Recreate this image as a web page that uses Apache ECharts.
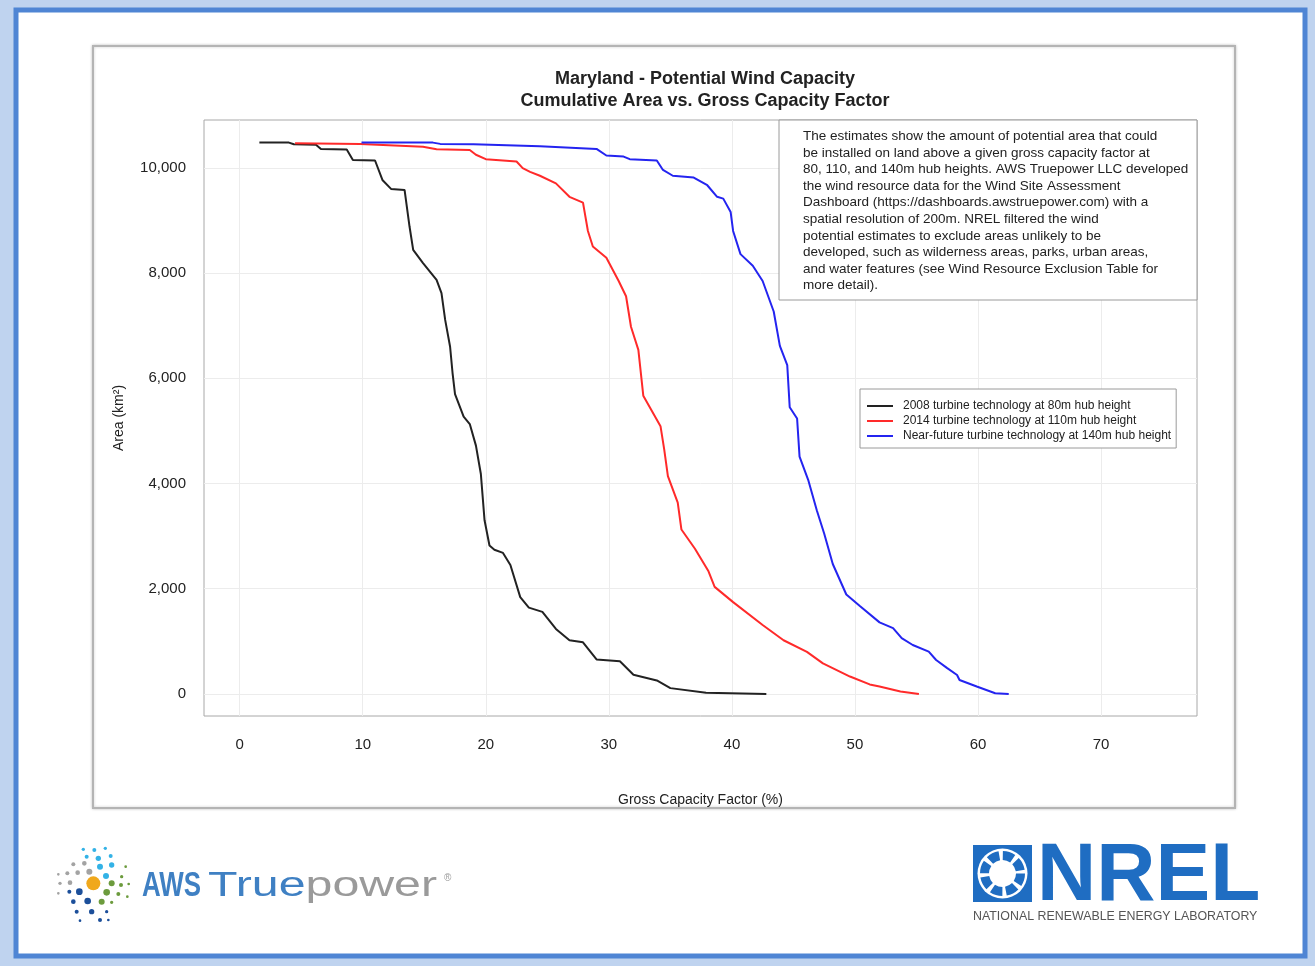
<!DOCTYPE html>
<html>
<head>
<meta charset="utf-8">
<title>Maryland - Potential Wind Capacity</title>
<script src="https://cdn.jsdelivr.net/npm/echarts@6/dist/echarts.min.js"></script>
<style>
  html, body { margin: 0; padding: 0; background: #fff; }
  #chart { width: 1315px; height: 966px; }
</style>
</head>
<body>
<div id="chart"></div>
<script>
// gross capacity factor (%) and cumulative area (km2)
var cf80 = [1.6, 4.0, 4.4, 6.2, 6.6, 8.7, 9.2, 11.0, 11.6, 12.3, 13.4, 13.8, 14.1, 14.9, 16.0, 16.4, 16.7, 17.1, 17.3, 17.5, 18.2, 18.7, 19.2, 19.6, 19.9, 20.3, 20.7, 21.4, 22.0, 22.8, 23.5, 24.6, 25.7, 26.8, 27.9, 29.0, 30.9, 32.0, 33.9, 35.0, 37.9, 42.8];
var area80 = [10480, 10480, 10450, 10440, 10360, 10350, 10150, 10140, 9770, 9600, 9580, 8890, 8440, 8190, 7870, 7620, 7110, 6600, 6100, 5700, 5270, 5130, 4720, 4180, 3300, 2820, 2740, 2680, 2450, 1840, 1640, 1560, 1235, 1020, 980, 655, 620, 365, 255, 110, 20, 0];

var cf110 = [4.5, 9.8, 14.9, 16.0, 18.7, 19.2, 20.0, 22.5, 23.0, 23.6, 24.4, 25.7, 26.8, 27.9, 28.3, 28.7, 29.8, 30.8, 31.4, 31.8, 32.4, 32.8, 33.5, 34.2, 34.5, 34.8, 35.6, 35.9, 37.0, 38.1, 38.6, 40.1, 42.5, 44.2, 46.1, 47.4, 49.6, 51.2, 52.0, 53.7, 55.2];
var area110 = [10470, 10456, 10400, 10355, 10340, 10250, 10165, 10120, 9995, 9925, 9850, 9705, 9450, 9340, 8800, 8505, 8290, 7850, 7560, 6980, 6540, 5670, 5380, 5090, 4650, 4140, 3635, 3125, 2760, 2330, 2035, 1745, 1310, 1020, 800, 580, 330, 180, 140, 45, 0];

var cf140 = [9.9, 15.7, 16.3, 19.0, 24.4, 29.0, 29.8, 31.2, 31.7, 33.9, 34.4, 35.2, 36.9, 38.0, 38.8, 39.3, 39.9, 40.1, 40.7, 41.7, 42.5, 43.4, 43.9, 44.5, 44.7, 45.3, 45.5, 46.2, 46.9, 47.5, 48.2, 49.3, 50.4, 52.0, 53.1, 53.8, 54.7, 56.0, 56.6, 57.5, 58.3, 58.5, 59.9, 61.4, 62.5];
var area140 = [10480, 10480, 10456, 10450, 10410, 10360, 10235, 10215, 10165, 10140, 9960, 9850, 9815, 9670, 9450, 9415, 9160, 8800, 8360, 8140, 7850, 7270, 6615, 6250, 5450, 5235, 4510, 4070, 3490, 3050, 2470, 1890, 1670, 1360, 1250, 1060, 930, 805, 645, 490, 360, 265, 140, 13, 0];

var xTicks = [0, 10, 20, 30, 40, 50, 60, 70];
var yTicks = [0, 2000, 4000, 6000, 8000, 10000];

var seriesNames = [
  "2008 turbine technology at 80m hub height",
  "2014 turbine technology at 110m hub height",
  "Near-future turbine technology at 140m hub height"
];
var seriesColors = ["#222222", "#ff2a2a", "#2424f0"];

var noteLines = [
  "The estimates show the amount of potential area that could",
  "be installed on land above a given gross capacity factor at",
  "80, 110, and 140m hub heights. AWS Truepower LLC developed",
  "the wind resource data for the Wind Site Assessment",
  "Dashboard (https://dashboards.awstruepower.com) with a",
  "spatial resolution of 200m. NREL filtered the wind",
  "potential estimates to exclude areas unlikely to be",
  "developed, such as wilderness areas, parks, urban areas,",
  "and water features (see Wind Resource Exclusion Table for",
  "more detail)."
];

var FONT = "Liberation Sans, Arial, sans-serif";

function pairs(xs, ys) {
  return xs.map(function (x, i) { return [x, ys[i]]; });
}

// dots of the AWS Truepower mark (zoomed coords / 3 + origin)
var awsDots = [
  [130, 58, 5, "lb"], [163, 60, 6, "lb"], [196, 55, 5, "lb"],
  [140, 80, 6, "lb"], [175, 85, 8, "lb"], [212, 78, 6, "lb"],
  [100, 103, 6, "gr"], [133, 100, 7, "gr"], [180, 110, 9, "lb"], [215, 105, 8, "lb"], [257, 110, 4, "gn"],
  [55, 133, 4, "gr"], [82, 130, 6, "gr"], [113, 128, 7, "gr"], [148, 125, 9, "gr"], [198, 138, 9, "lb"], [245, 140, 5, "gn"],
  [60, 160, 5, "gr"], [90, 158, 7, "gr"], [160, 160, 21, "ye"], [215, 160, 9, "gn"], [243, 165, 6, "gn"], [266, 162, 4, "gn"],
  [55, 190, 4, "gr"], [88, 185, 6, "db"], [118, 185, 10, "db"], [200, 187, 10, "gn"], [235, 192, 6, "gn"], [262, 200, 4, "gn"],
  [100, 215, 7, "db"], [143, 213, 10, "db"], [185, 215, 9, "gn"], [215, 217, 5, "gn"],
  [110, 245, 6, "db"], [155, 245, 8, "db"], [200, 245, 5, "db"],
  [120, 272, 4, "db"], [180, 270, 6, "db"], [205, 270, 4, "db"]
];
var dotColors = { lb: "#33b2e6", gr: "#a3a3a3", ye: "#f0a81c", gn: "#6c9b3d", db: "#1c4f9a" };

var graphics = [
  { type: "rect", z: -20, shape: { x: 0, y: 0, width: 1315, height: 966 }, style: { fill: "#bfd3ef" } },
  { type: "rect", z: -19, shape: { x: 16, y: 10, width: 1289, height: 946 },
    style: { fill: "#ffffff", stroke: "#4f85d4", lineWidth: 5 } },
  { type: "rect", z: -18, shape: { x: 93, y: 46, width: 1142, height: 762 },
    style: { fill: "#ffffff", stroke: "#b4b4b4", lineWidth: 2, shadowBlur: 3, shadowColor: "rgba(0,0,0,0.2)" } },
  // note box
  { type: "rect", z: 10, shape: { x: 779, y: 120, width: 418, height: 180 },
    style: { fill: "#ffffff", stroke: "#9a9a9a", lineWidth: 1 } },
  { type: "text", z: 11, x: 803, y: 128,
    style: { text: noteLines.join("\n"), font: "13.5px " + FONT, fill: "#222", lineHeight: 16.6 } },
  // AWS Truepower mark
  { type: "text", z: 1, x: 142, y: 886, scaleX: 0.74,
    style: { text: "AWS", font: "bold 35px " + FONT, fill: "#3f80c3", verticalAlign: "middle" } },
  { type: "text", z: 1, x: 208, y: 886, scaleX: 1.38,
    style: { rich: { a: { fill: "#3f80c3", font: "35px " + FONT }, b: { fill: "#9a9a9a", font: "35px " + FONT } },
      text: "{a|True}{b|power}", verticalAlign: "middle" } },
  { type: "text", z: 1, x: 444, y: 878,
    style: { text: "®", font: "10px " + FONT, fill: "#9a9a9a", verticalAlign: "middle" } },
  // NREL mark
  { type: "rect", z: 1, shape: { x: 973, y: 845, width: 59, height: 57 }, style: { fill: "#1f6dc2" } },
  { type: "circle", z: 2, shape: { cx: 1002.5, cy: 873.5, r: 25 }, style: { fill: "#ffffff" } },
  { type: "circle", z: 3, shape: { cx: 1002.5, cy: 873.5, r: 18 },
    style: { fill: null, stroke: "#1f6dc2", lineWidth: 9, lineDash: [10.5, 3.6] } },
  { type: "text", z: 1, x: 1037, y: 877,
    style: { text: "NREL", font: "bold 82px " + FONT, fill: "#1f6dc2", verticalAlign: "middle" } },
  { type: "text", z: 1, x: 973, y: 917,
    style: { text: "NATIONAL RENEWABLE ENERGY LABORATORY", font: "12.4px " + FONT, fill: "#555", verticalAlign: "middle" } }
];
awsDots.forEach(function (d) {
  graphics.push({ type: "circle", z: 1, shape: { cx: 40 + d[0] / 3, cy: 830 + d[1] / 3, r: d[2] / 3 },
    style: { fill: dotColors[d[3]] } });
});

var gridLines = xTicks.map(function (v) { return { xAxis: v }; })
  .concat(yTicks.map(function (v) { return { yAxis: v }; }));

var lineSeries = [pairs(cf80, area80), pairs(cf110, area110), pairs(cf140, area140)].map(function (d, i) {
  return {
    name: seriesNames[i],
    type: "line",
    data: d,
    symbol: "none",
    legendIcon: "rect",
    z: 3,
    color: seriesColors[i],
    lineStyle: { color: seriesColors[i], width: 2 },
    animation: false
  };
});

var option = {
  animation: false,
  textStyle: { fontFamily: FONT },
  title: {
    text: "Maryland - Potential Wind Capacity\nCumulative Area vs. Gross Capacity Factor",
    left: 700,
    top: 63,
    textAlign: "center",
    textStyle: { fontSize: 18, fontWeight: "bold", color: "#222", lineHeight: 22, fontFamily: FONT }
  },
  grid: {
    left: 204, right: 118, top: 120, bottom: 250,
    show: true, borderColor: "#a8a8a8", borderWidth: 1, backgroundColor: "transparent"
  },
  legend: {
    data: seriesNames,
    orient: "vertical",
    left: 860,
    top: 389,
    icon: "rect",
    itemWidth: 26,
    itemHeight: 2,
    itemGap: 1,
    padding: [10, 5, 5, 7],
    backgroundColor: "#ffffff",
    borderColor: "#9a9a9a",
    borderWidth: 1,
    borderRadius: 0,
    textStyle: { fontSize: 12, color: "#222", lineHeight: 14, fontFamily: FONT, padding: [0, 0, 0, 5] }
  },
  xAxis: {
    type: "value",
    min: -2.9,
    max: 77.8,
    name: "Gross Capacity Factor (%)",
    nameLocation: "middle",
    nameGap: 77,
    nameTextStyle: { fontSize: 14, color: "#222", fontFamily: FONT },
    axisLine: { show: false },
    axisTick: { show: true, customValues: xTicks, length: 10, lineStyle: { color: "#777" } },
    axisLabel: { customValues: xTicks, margin: 21, fontSize: 15, color: "#222", fontFamily: FONT },
    splitLine: { show: false }
  },
  yAxis: {
    type: "value",
    min: -420,
    max: 10910,
    name: "Area (km²)",
    nameLocation: "middle",
    nameGap: 78,
    nameTextStyle: { fontSize: 14, color: "#222", fontFamily: FONT },
    axisLine: { show: false },
    axisTick: { show: true, customValues: yTicks, length: 10, lineStyle: { color: "#777" } },
    axisLabel: {
      customValues: yTicks, margin: 18, fontSize: 15, color: "#222", fontFamily: FONT,
      formatter: function (v) { return v.toLocaleString("en-US"); }
    },
    splitLine: { show: false }
  },
  graphic: graphics,
  series: [
    {
      name: "gridlines",
      type: "line",
      data: [],
      z: 1,
      silent: true,
      markLine: {
        z: 1,
        silent: true,
        symbol: ["none", "none"],
        label: { show: false },
        lineStyle: { color: "#ececec", type: "solid", width: 1 },
        data: gridLines,
        animation: false
      }
    }
  ].concat(lineSeries)
};

var myChart = echarts.init(document.getElementById("chart"));
myChart.setOption(option);
</script>
</body>
</html>
